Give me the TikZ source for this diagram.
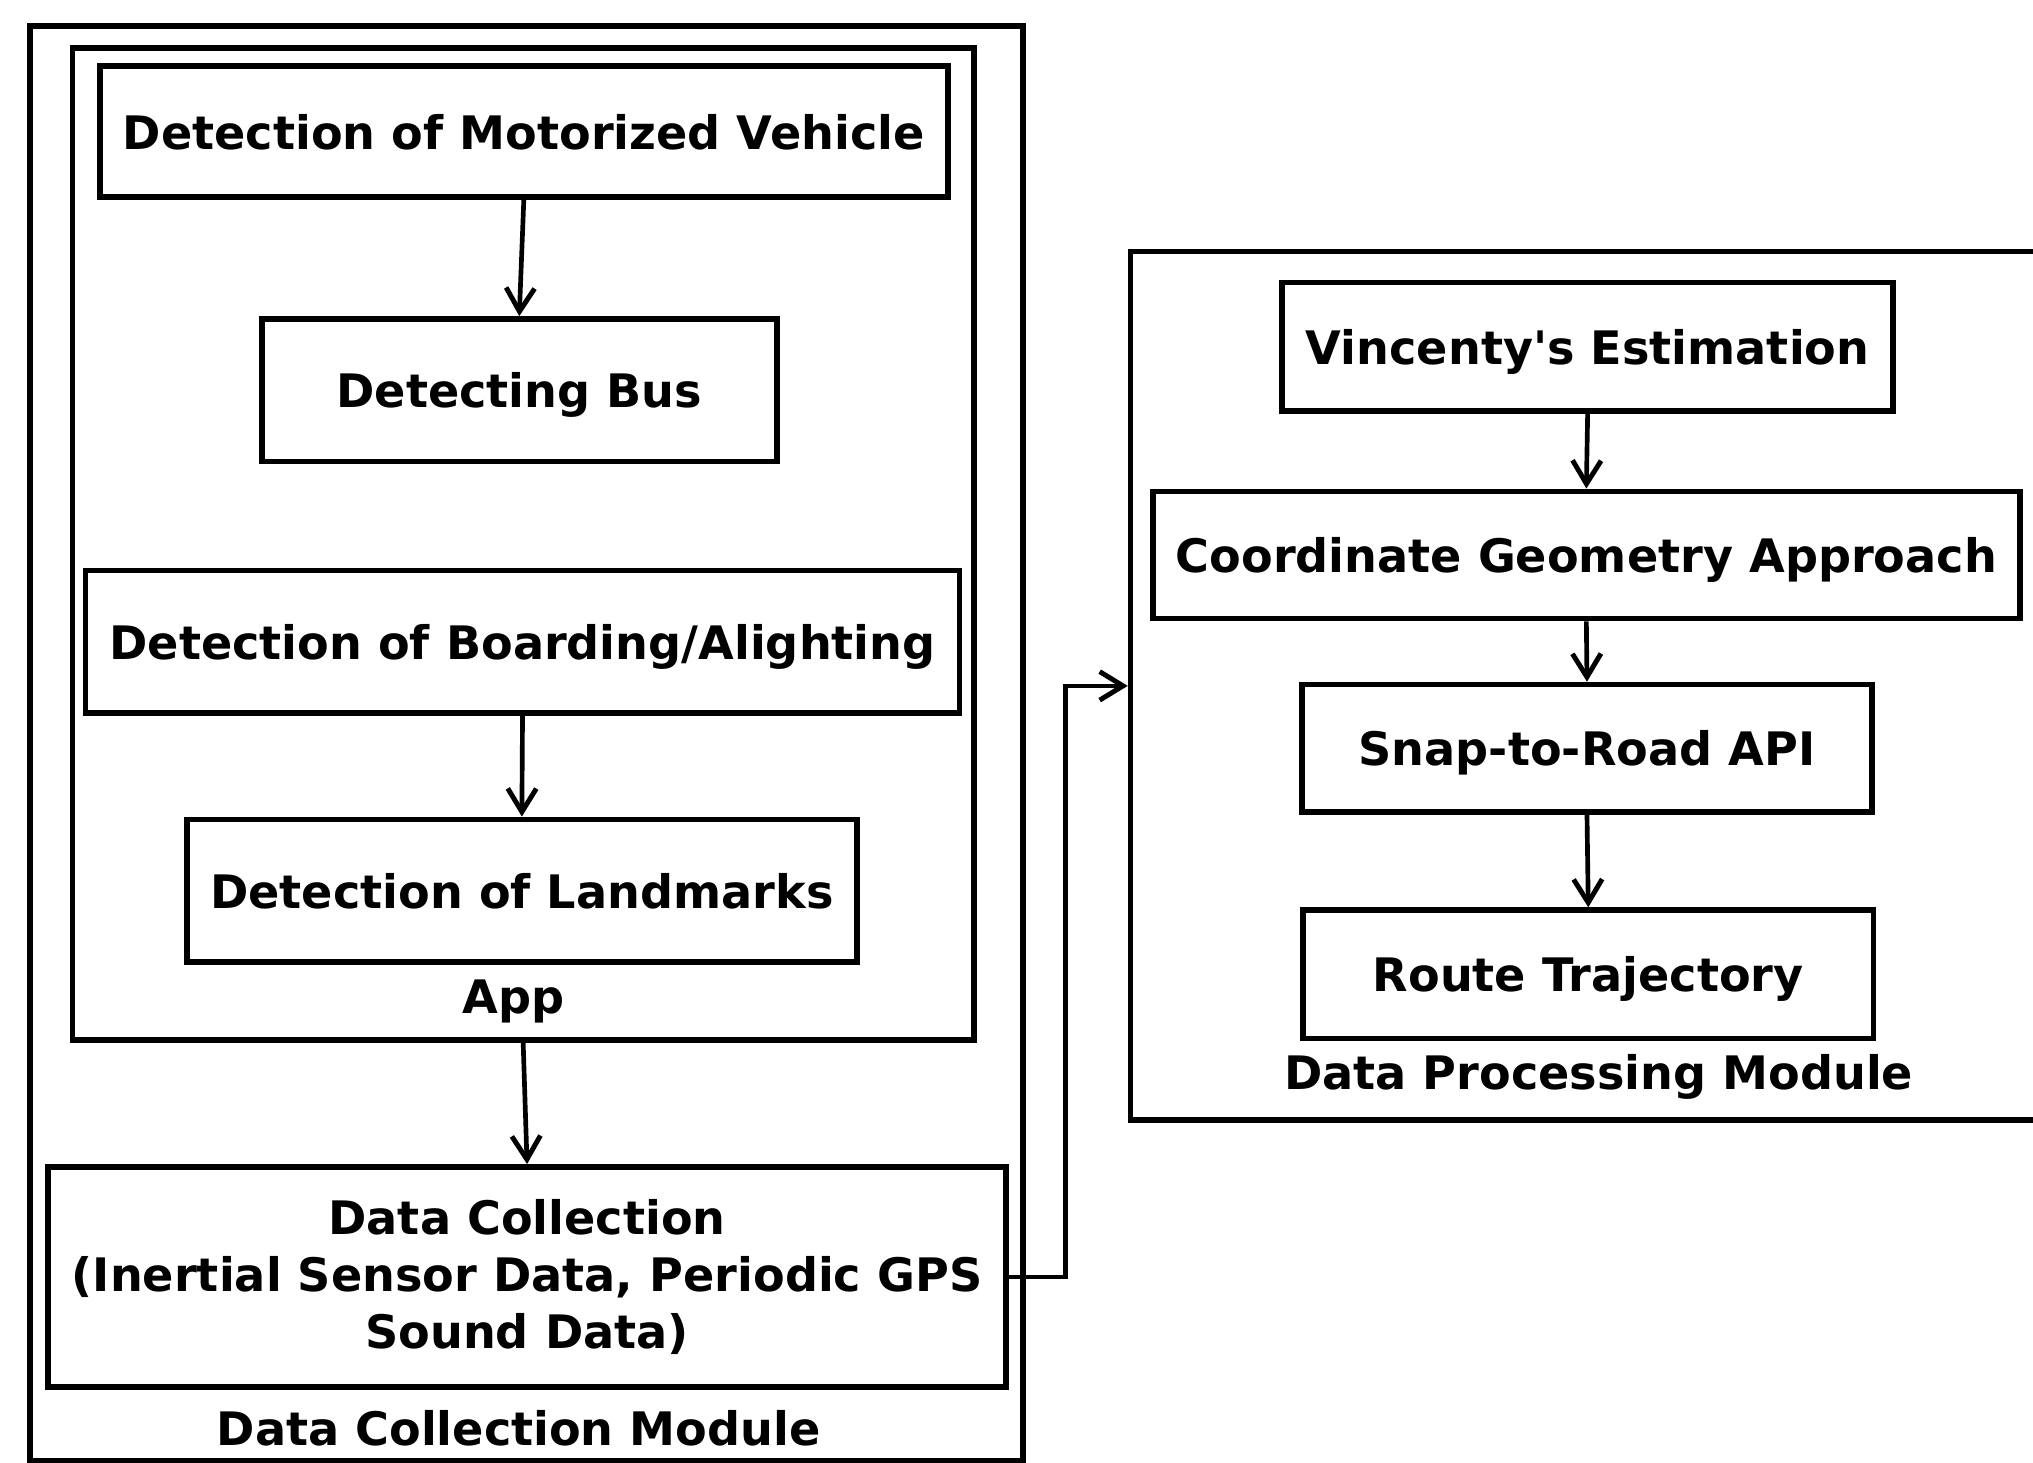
\documentclass[tikz,border=0pt]{standalone}
\usepackage{fontspec}
\setmainfont{DejaVu Sans}
\usetikzlibrary{arrows.meta}

\tikzset{
  box/.style={draw, line width=2.2pt, rectangle, align=center, inner sep=0pt},
  flat/.style={text depth=0pt},
  frame/.style={draw, line width=2.2pt, rectangle, inner sep=0pt},
  tag/.style={inner sep=0pt, align=center, text depth=0pt},
  arr/.style={line width=1.8pt, -{Straight Barb[length=9pt,width=11pt,line width=1.9pt]}}
}

\begin{document}
\begin{tikzpicture}[x=0.5pt, y=-0.5pt, font=\fontsize{17.8}{22}\selectfont\bfseries]
    \useasboundingbox (0,0) rectangle (1568,1128);
    % outer modules
    \node[frame, minimum width=383pt, minimum height=553.5pt] (dcm) at (406,573.5) {};
    \node[frame, minimum width=347.5pt, minimum height=382.5pt] (app) at (403.5,419.5) {};
    \node[frame, minimum width=360pt, minimum height=335pt] (proc) at (1232,529) {};
    \node[tag] (dcmlabel) at (400,1101) {Data Collection Module};
    \node[tag] (applabel) at (396,769) {App};
    \node[tag] (proclabel) at (1233,827) {Data Processing Module};
    % data collection side
    \node[box, flat, minimum width=327pt, minimum height=50.5pt] (motor) at (404,101.5) {Detection of Motorized Vehicle};
    \node[box, flat, minimum width=198.5pt, minimum height=55pt] (bus) at (400.5,301) {Detecting Bus};
    \node[box, flat, minimum width=337pt, minimum height=55pt] (board) at (403,495) {Detection of Boarding/Alighting};
    \node[box, flat, minimum width=258.5pt, minimum height=55pt] (land) at (402.5,687) {Detection of Landmarks};
    \node[box, minimum width=369.5pt, minimum height=85pt] (dcoll) at (406.5,985) {Data Collection\\(Inertial Sensor Data, Periodic GPS\\Sound Data)};
    % data processing side
    \node[box, flat, minimum width=235.5pt, minimum height=49.5pt] (vinc) at (1224.5,267.5) {Vincenty\textquotesingle s Estimation};
    \node[box, flat, minimum width=334.5pt, minimum height=49pt] (coord) at (1223.5,428) {Coordinate Geometry Approach};
    \node[box, flat, minimum width=220pt, minimum height=49pt] (snap) at (1224,577) {Snap-to-Road API};
    \node[box, flat, minimum width=220pt, minimum height=49.5pt] (route) at (1225,751.5) {Route Trajectory};
    % arrows
    \draw[arr] (motor.south) -- (bus.north);
    \draw[arr] (board.south) -- (land.north);
    \draw[arr] (app.south) -- (dcoll.north);
    \coordinate (bend) at (822,985);
    \draw[arr] (dcoll.east) -- (bend) |- (proc.west);
    \draw[arr] (vinc.south) -- (coord.north);
    \draw[arr] (coord.south) -- (snap.north);
    \draw[arr] (snap.south) -- (route.north);
\end{tikzpicture}
\end{document}
